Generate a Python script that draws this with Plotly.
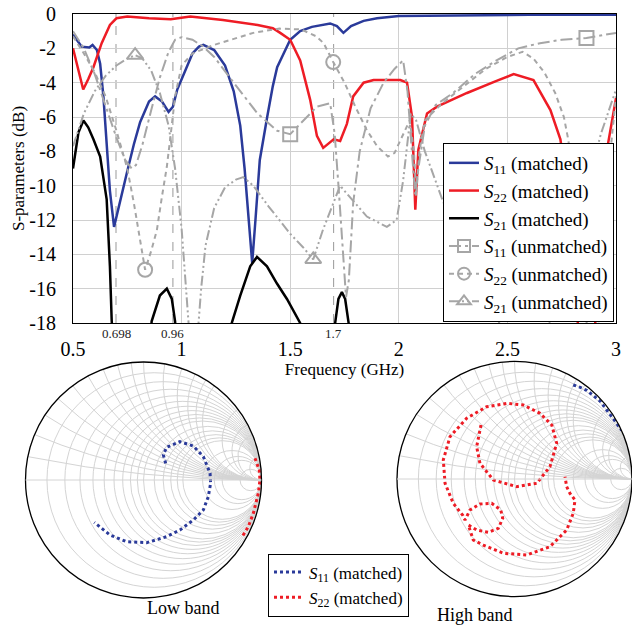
import numpy as np
import plotly.graph_objects as go

FONT = "Liberation Serif, Times New Roman, Times, serif"
GRAY = "#a6a6a6"

# ---------------- S-parameter data (GHz, dB) ----------------
f_s11m = [0.5, 0.54, 0.575, 0.59, 0.61, 0.625, 0.64, 0.655, 0.67, 0.689, 0.70, 0.72, 0.749, 0.78, 0.809, 0.85, 0.878,
          0.91, 0.94, 0.96, 0.98, 1.02, 1.05, 1.08, 1.10, 1.15, 1.2, 1.24, 1.27, 1.29, 1.31, 1.325, 1.34, 1.36, 1.394,
          1.42, 1.44, 1.5, 1.546, 1.6, 1.684, 1.715, 1.745, 1.78, 1.838, 1.9, 2.0, 2.3, 2.6, 3.0]
s11m = [-1.2, -1.9, -1.95, -1.8, -2.1, -2.9, -4.8, -7.5, -10.3, -12.4, -11.8, -10.6, -9.2, -7.6, -6.3, -5.1, -4.8,
        -5.1, -5.7, -5.4, -4.4, -3.2, -2.3, -1.9, -1.8, -2.1, -3.0, -4.5, -6.5, -9.0, -12.0, -14.5, -12.0, -8.5, -6.0,
        -4.2, -3.1, -1.5, -1.0, -0.75, -0.55, -0.7, -1.1, -0.7, -0.4, -0.25, -0.12, -0.07, -0.05, -0.05]

f_s22m = [0.5, 0.52, 0.547, 0.57, 0.594, 0.632, 0.67, 0.70, 0.75, 0.85, 0.95, 1.04, 1.19, 1.35, 1.42, 1.454, 1.5,
          1.546, 1.592, 1.623, 1.652, 1.70, 1.73, 1.761, 1.79, 1.838, 1.884, 2.007, 2.038, 2.061, 2.076, 2.09, 2.13,
          2.176, 2.314, 2.45, 2.529, 2.62, 2.698, 2.744, 2.78, 2.81, 2.83, None, 2.9, 2.93, 2.96, 3.0]
s22m = [-2.0, -3.0, -4.4, -3.8, -3.1, -1.7, -0.64, -0.25, -0.15, -0.25, -0.3, -0.15, -0.35, -0.64, -0.83, -1.1, -1.5,
        -2.7, -5.0, -7.1, -7.8, -7.3, -7.4, -6.4, -4.8, -4.0, -3.85, -3.85, -4.0, -6.0, -11.4, -7.9, -5.8,
        -5.4, -4.6, -3.9, -3.5, -3.85, -5.6, -7.3, -10.5, -15.5, -19.0, None, -19.0, -12.0, -7.8, -4.9]

f_s21m = [0.5, 0.525, 0.548, 0.57, 0.594, 0.625, 0.655, 0.67, 0.678, 0.685, None,
          0.855, 0.862, 0.9, 0.932, 0.955, 0.97, 0.977, None,
          1.225, 1.231, 1.27, 1.316, 1.347, 1.393, 1.439, 1.485, 1.546, 1.555, None,
          1.703, 1.707, 1.722, 1.738, 1.753, 1.769, 1.773]
s21m = [-9.0, -6.9, -6.2, -6.6, -7.3, -8.3, -10.8, -14.7, -17.8, -19.5, None,
        -19.5, -17.9, -16.4, -16.0, -16.6, -17.9, -19.5, None,
        -19.5, -18.0, -16.4, -14.7, -14.15, -14.7, -15.7, -16.6, -18.0, -19.5, None,
        -19.5, -18.0, -16.6, -16.2, -16.6, -18.0, -19.5]

f_s11u = [0.5, 0.55, 0.6, 0.65, 0.7, 0.74, 0.77, 0.79, 0.82, 0.86, 0.9, 0.94, 0.97, 1.0, 1.05, 1.1, 1.15, 1.24,
          1.35, 1.44, 1.5, 1.546, 1.623, 1.684, 1.705, 1.725, 1.745, 1.757, 1.77, 1.79, 1.82, 1.87, 1.93, 1.98,
          2.02, 2.04, 2.06, 2.075, 2.09, 2.12, 2.17, 2.25, 2.35, 2.45, 2.55, 2.65, 2.75, 2.864, 3.0]
s11u = [-1.0, -2.0, -3.5, -5.4, -7.2, -8.5, -9.0, -8.8, -7.6, -5.6, -3.7, -2.2, -1.5, -1.35, -1.5, -1.9, -2.5, -4.0,
        -5.8, -6.8, -7.0, -6.4, -5.4, -5.2, -7.0, -10.5, -14.5, -16.5, -15.5, -11.0, -8.0, -5.5, -4.0, -3.2,
        -2.7, -4.5, -8.0, -10.5, -9.0, -6.5, -5.3, -4.6, -3.5, -2.7, -2.0, -1.7, -1.5, -1.4, -1.1]

f_s22u = [0.5, 0.55, 0.6, 0.65, 0.7, 0.75, 0.78, 0.81, 0.832, 0.86, 0.886, 0.91, 0.932, 0.95, 0.97, 1.0, 1.05,
          1.15, 1.33, 1.45, 1.55, 1.62, 1.654, 1.698, 1.75, 1.8, 1.85, 1.9, 1.95, 1.98, 2.02, 2.05, 2.07, 2.08,
          2.095, 2.12, 2.2, 2.3, 2.4, 2.5, 2.57, 2.62, 2.67, 2.72, 2.76, 2.78, 2.82, 2.86, 2.875, None,
          2.915, 2.94, 2.96, 2.98, 3.0]
s22u = [-1.3, -2.3, -3.4, -4.8, -6.8, -9.0, -11.0, -13.2, -14.9, -13.8, -12.6, -10.6, -8.9, -7.0, -4.8, -3.0, -2.3,
        -1.8, -1.1, -0.85, -0.9, -1.3, -1.7, -2.8, -4.0, -5.4, -6.7, -7.7, -8.3, -8.1, -7.0, -6.2, -8.0, -10.6,
        -8.0, -6.2, -5.2, -4.2, -3.2, -2.5, -2.2, -2.6, -3.4, -4.6, -6.0, -7.3, -11.0, -17.5, -19.0, None,
        -19.0, -14.0, -10.0, -7.3, -4.8]

f_s21u = [0.5, 0.55, 0.6, 0.65, 0.7, 0.75, 0.786, 0.82, 0.86, 0.9, 0.94, 0.97, 1.0, 1.02, 1.035, None,
          1.075, 1.09, 1.11, 1.15, 1.2, 1.25, 1.284, 1.33, 1.4, 1.5, 1.56, 1.606, 1.65, 1.698, 1.73, 1.77, 1.853,
          1.945, 1.99, 2.02, 2.038, 2.055, 2.08, 2.12, 2.2, 2.3, 2.4, 2.48, None, 2.68, 2.75, 2.85, 2.93, 3.0]
s21u = [-7.7, -5.8, -4.5, -3.6, -3.0, -2.6, -2.4, -2.6, -3.3, -4.6, -6.5, -9.0, -12.5, -16.0, -18.5, None,
        -18.5, -16.0, -13.5, -11.3, -10.1, -9.65, -9.5, -10.0, -11.2, -12.8, -13.6, -14.3, -12.6, -11.0, -10.0, -10.6, -11.8,
        -12.4, -12.0, -9.7, -7.5, -5.8, -6.2, -8.0, -10.8, -13.8, -16.2, -18.5, None, -18.5, -16.0, -11.0, -7.0, -4.4]

# marker positions (frequencies that carry a symbol)
mk_s11u = [1.5, 2.864]
mk_s22u = [0.832, 1.698]
mk_s21u = [0.786, 1.606]

vline_f = [0.698, 0.96, 1.7]
vline_txt = ["0.698", "0.96", "1.7"]

x_ticks = [0.5, 1, 1.5, 2, 2.5, 3]
x_ticktext = ["0.5", "1", "1.5", "2", "2.5", "3"]
y_ticks = [0, -2, -4, -6, -8, -10, -12, -14, -16, -18]
y_ticktext = ["0", "-2", "-4", "-6", "-8", "-10", "-12", "-14", "-16", "-18"]

# ---------------- Smith chart data (reflection coefficient, re / im) ----------------
low_s11_re = [0.188, 0.168, 0.196, 0.309, 0.422, 0.507, 0.564, 0.569, 0.549, 0.507, 0.422, 0.309, 0.196, 0.027, -0.142, -0.284, -0.417]
low_s11_im = [0.141, 0.212, 0.277, 0.325, 0.288, 0.198, 0.057, -0.028, -0.141, -0.254, -0.339, -0.424, -0.480, -0.531, -0.523, -0.466, -0.359]
low_s22_re = [0.945, 0.981, 0.987, 0.973, 0.931, 0.888, 0.840]
low_s22_im = [0.184, 0.085, 0.0, -0.113, -0.282, -0.396, -0.475]

high_s11_re = [0.50, 0.56, 0.614, 0.67, 0.728, 0.775, 0.813, 0.865, 0.912]
high_s11_im = [0.80, 0.78, 0.755, 0.71, 0.664, 0.60, 0.550, 0.48, 0.413]
high_s22_re = [-0.285, -0.322, -0.294, -0.180, 0.019, 0.189, 0.302, 0.359, 0.317, 0.217, 0.075, -0.066, -0.237, -0.407,
               -0.549, -0.606, -0.591, -0.521, -0.440, -0.421, -0.379, -0.294, -0.194, -0.117, -0.100, -0.138, -0.223,
               -0.322, -0.393, -0.351, -0.266, -0.095, 0.104, 0.302, 0.444, 0.500, 0.515, 0.472, 0.444, 0.430]
high_s22_im = [0.460, 0.275, 0.134, -0.009, -0.065, -0.037, 0.105, 0.304, 0.460, 0.559, 0.630, 0.644, 0.615, 0.517,
               0.360, 0.162, -0.037, -0.207, -0.310, -0.349, -0.264, -0.213, -0.207, -0.264, -0.335, -0.420, -0.454,
               -0.434, -0.391, -0.519, -0.562, -0.632, -0.647, -0.576, -0.434, -0.292, -0.179, -0.122, -0.065, 0.020]


def gamma_to_z(gre, gim):
    g = np.array(gre) + 1j * np.array(gim)
    z = (1 + g) / (1 - g)
    return z.real, z.imag


fig = go.Figure()

BLUE = "#2a3a9a"
RED = "#ee1c25"

# matched
fig.add_trace(go.Scatter(x=f_s11m, y=s11m, mode="lines", line=dict(color=BLUE, width=2.5),
                         name="<i>S</i><sub>11</sub> (matched)", connectgaps=False))
fig.add_trace(go.Scatter(x=f_s22m, y=s22m, mode="lines", line=dict(color=RED, width=2.5),
                         name="<i>S</i><sub>22</sub> (matched)", connectgaps=False))
fig.add_trace(go.Scatter(x=f_s21m, y=s21m, mode="lines", line=dict(color="black", width=2.5),
                         name="<i>S</i><sub>21</sub> (matched)", connectgaps=False))

# unmatched
unm = [
    (f_s11u, s11u, mk_s11u, "12px,4px,3px,4px", "square-open", "<i>S</i><sub>11</sub> (unmatched)"),
    (f_s22u, s22u, mk_s22u, "5px,4px", "circle-open", "<i>S</i><sub>22</sub> (unmatched)"),
    (f_s21u, s21u, mk_s21u, "10px,3px,2px,3px,2px,3px", "triangle-up-open", "<i>S</i><sub>21</sub> (unmatched)"),
]
for i, (fx, yy, mk, dash, sym, nm) in enumerate(unm):
    grp = "u%d" % i
    fig.add_trace(go.Scatter(x=fx, y=yy, mode="lines", line=dict(color=GRAY, width=2, dash=dash),
                             showlegend=False, legendgroup=grp, connectgaps=False))
    idx = [fx.index(m) for m in mk]
    fig.add_trace(go.Scatter(x=[fx[k] for k in idx], y=[yy[k] for k in idx], mode="markers",
                             marker=dict(symbol=sym, size=14, color=GRAY, line=dict(width=2, color=GRAY)),
                             showlegend=False, legendgroup=grp))
    fig.add_trace(go.Scatter(x=[None], y=[None], mode="lines+markers", name=nm, legendgroup=grp,
                             line=dict(color=GRAY, width=2, dash=dash),
                             marker=dict(symbol=sym, size=12, color=GRAY, line=dict(width=2, color=GRAY))))

# vertical marker lines
for fv, tv in zip(vline_f, vline_txt):
    fig.add_shape(type="line", xref="x", yref="y", x0=fv, x1=fv, y0=-18, y1=0,
                  line=dict(color="#999999", width=1, dash="dash"), layer="below")
    fig.add_annotation(x=fv, y=-18, xref="x", yref="y", text=tv, showarrow=False, yanchor="top", yshift=-1,
                       font=dict(family=FONT, size=13, color="#222"))

# Smith charts
zr, zi = gamma_to_z(low_s11_re, low_s11_im)
fig.add_trace(go.Scattersmith(real=zr, imag=zi, subplot="smith", mode="lines",
                              line=dict(color=BLUE, width=3, dash="dot"),
                              name="<i>S</i><sub>11</sub> (matched)", legend="legend2"))
zr, zi = gamma_to_z(low_s22_re, low_s22_im)
fig.add_trace(go.Scattersmith(real=zr, imag=zi, subplot="smith", mode="lines",
                              line=dict(color=RED, width=3, dash="dot"),
                              name="<i>S</i><sub>22</sub> (matched)", legend="legend2"))
zr, zi = gamma_to_z(high_s11_re, high_s11_im)
fig.add_trace(go.Scattersmith(real=zr, imag=zi, subplot="smith2", mode="lines",
                              line=dict(color=BLUE, width=3, dash="dot"), showlegend=False))
zr, zi = gamma_to_z(high_s22_re, high_s22_im)
fig.add_trace(go.Scattersmith(real=zr, imag=zi, subplot="smith2", mode="lines",
                              line=dict(color=RED, width=3, dash="dot"), showlegend=False))

grid_vals = [0.1, 0.2, 0.3, 0.4, 0.5, 0.6, 0.7, 0.8, 0.9, 1, 1.2, 1.4, 1.6, 1.8, 2, 3, 4, 5, 10]
smith_style = dict(
    bgcolor="white",
    realaxis=dict(tickvals=grid_vals, showticklabels=False, ticks="", gridcolor="#d4d4d4", gridwidth=1,
                  linecolor="#d4d4d4", linewidth=1),
    imaginaryaxis=dict(tickvals=grid_vals, showticklabels=False, ticks="", gridcolor="#d4d4d4", gridwidth=1,
                       linecolor="black", linewidth=1.3),
)

W, H = 632, 640
fig.update_layout(
    width=W, height=H, margin=dict(l=0, r=0, t=0, b=0, autoexpand=False),
    paper_bgcolor="white", plot_bgcolor="white",
    font=dict(family=FONT, size=17, color="black"),
    xaxis=dict(domain=[73 / W, 616 / W], range=[0.5, 3], tickvals=x_ticks, ticktext=x_ticktext,
               showgrid=True, gridcolor="#d0d0d0", gridwidth=1, showline=True, linecolor="black", linewidth=1.2,
               mirror=True, ticks="", ticklabelstandoff=8, zeroline=False, automargin=False,
               tickfont=dict(family=FONT, size=20),
               title=dict(text="Frequency (GHz)", standoff=0, font=dict(family=FONT, size=17))),
    yaxis=dict(domain=[1 - 323 / H, 1 - 14 / H], range=[-18, 0], tickvals=y_ticks, ticktext=y_ticktext,
               showgrid=True, gridcolor="#d0d0d0", gridwidth=1, showline=True, linecolor="black", linewidth=1.2,
               mirror=True, ticks="", ticklabelstandoff=12, zeroline=False, automargin=False,
               tickfont=dict(family=FONT, size=20),
               title=dict(text="S-parameters (dB)", standoff=0, font=dict(family=FONT, size=17))),
    legend=dict(x=443 / W, y=1 - 143 / H, xanchor="left", yanchor="top", bgcolor="white",
                bordercolor="black", borderwidth=1, font=dict(family=FONT, size=19), itemwidth=30,
                tracegroupgap=0),
    legend2=dict(x=268 / W, y=1 - 585 / H, xanchor="left", yanchor="middle", yref="paper", xref="paper",
                 bgcolor="white", bordercolor="black", borderwidth=1, font=dict(family=FONT, size=17),
                 itemwidth=30),
    smith=dict(domain=dict(x=[25.5 / W, 261.5 / W], y=[1 - 598 / H, 1 - 362 / H]), **smith_style),
    smith2=dict(domain=dict(x=[397 / W, 632 / W], y=[1 - 596.5 / H, 1 - 361.5 / H]), **smith_style),
    showlegend=True,
)

fig.add_annotation(x=145 / W, y=1 - 620 / H, xref="paper", yref="paper", text="Low band", showarrow=False,
                   font=dict(family=FONT, size=18))
fig.add_annotation(x=515 / W, y=1 - 627 / H, xref="paper", yref="paper", text="High band", showarrow=False,
                   font=dict(family=FONT, size=18))

fig.write_html("out.html", config={"displayModeBar": False},
               post_script="document.body.style.margin='0px';document.body.style.overflow='hidden';")
